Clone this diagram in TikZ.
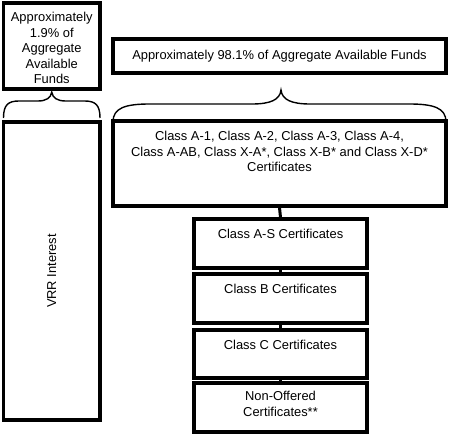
\documentclass[tikz,border=0pt]{standalone}
\usepackage{fontspec}
\setmainfont{Liberation Sans}
\begin{document}
\begin{tikzpicture}[x=1pt,y=-1pt,
  box/.style={draw, line width=3.2pt, inner sep=0pt},
  txt/.style={font=\fontsize{12.9}{15.6}\selectfont, align=center, inner sep=0pt},
  brace/.style={line width=1.4pt},
  link/.style={line width=3pt}]
\useasboundingbox[fill=white] (0,0) rectangle (450,435);
% boxes
\node[box, minimum width=96.5pt, minimum height=86pt] (b1) at (51.75,46) {};
\node[txt] (b1txt) at ([yshift=-2pt]b1.center)
  {Approximately\\1.9\% of\\Aggregate\\Available\\Funds};
\node[box, txt, minimum width=333pt, minimum height=34pt] (b2) at (279.5,56)
  {Approximately 98.1\% of Aggregate Available Funds};
\node[box, minimum width=96.5pt, minimum height=298pt] (vrr) at (51.75,271) {};
\node[txt, rotate=90] (vrrtxt) at (vrr.center) {VRR Interest};
\node[box, minimum width=333pt, minimum height=85pt] (big) at (279.5,163.5) {};
\node[txt, anchor=north] (bigtxt) at ([yshift=-11.5pt]big.north)
  {Class A-1, Class A-2, Class A-3, Class A-4,\\Class A-AB, Class X-A*, Class X-B* and Class X-D*\\Certificates};
\node[box, minimum width=173pt, minimum height=49pt] (as) at (280.5,243.5) {};
\node[txt, anchor=north] (astxt) at ([yshift=-11.5pt]as.north) {Class A-S Certificates};
\node[box, minimum width=173pt, minimum height=49pt] (cb) at (280.5,298.5) {};
\node[txt, anchor=north] (cbtxt) at ([yshift=-11.5pt]cb.north) {Class B Certificates};
\node[box, minimum width=173pt, minimum height=48pt] (cc) at (280.5,354) {};
\node[txt, anchor=north] (cctxt) at ([yshift=-11.5pt]cc.north) {Class C Certificates};
\node[box, minimum width=173pt, minimum height=49pt] (no) at (280.5,407.5) {};
\node[txt, anchor=north] (notxt) at ([yshift=-10pt]no.north) {Non-Offered\\Certificates**};
% connectors
\draw[link] (big.south) -- (as.north);
\draw[link] (as.south) -- (cb.north);
\draw[link] (cb.south) -- (cc.north);
\draw[link] (cc.south) -- (no.north);
% braces
\draw[brace] (3.5,118) .. controls (3.5,105) and (8,101) .. (19,101) -- (38,101)
  .. controls (46,101) and (51,98) .. (51.75,92)
  .. controls (52.5,98) and (57.5,101) .. (65.5,101) -- (84.5,101)
  .. controls (95.5,101) and (100,105) .. (100,118);
\draw[brace] (113,122) .. controls (113,108) and (125,104) .. (150,104) -- (252,104)
  .. controls (270,104) and (280,100) .. (281,90)
  .. controls (282,100) and (292,104) .. (310,104) -- (409,104)
  .. controls (434,104) and (446,108) .. (446,122);
\end{tikzpicture}
\end{document}
